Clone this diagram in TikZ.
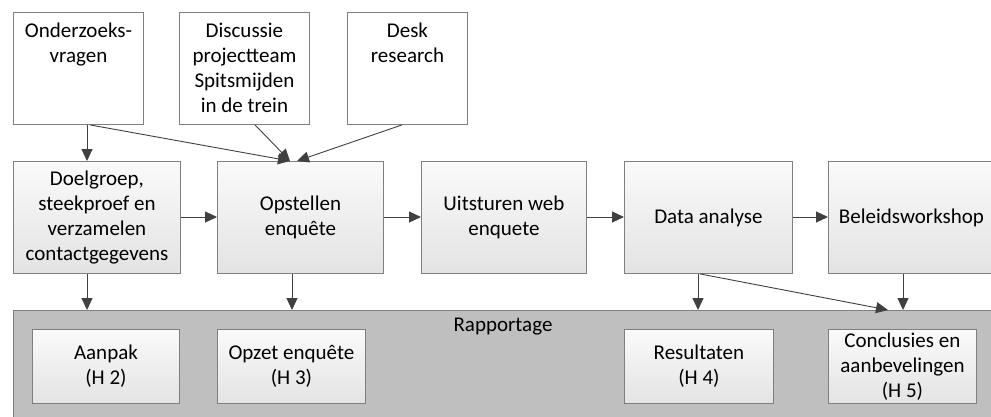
\documentclass[tikz,border=0pt]{standalone}
\usepackage{fontspec}
\setmainfont{Carlito}
\usetikzlibrary{arrows.meta,calc}
\definecolor{bordergray}{HTML}{7F7F7F}
\definecolor{arrowgray}{HTML}{404040}
\definecolor{contgray}{HTML}{BFBFBF}
\tikzset{
  base/.style={draw=bordergray, line width=0.9pt, rectangle, anchor=north west, inner sep=0pt},
  topbox/.style={base, fill=white},
  midbox/.style={base, top color=white!98!black, bottom color=white!89!black, align=center, font=\fontsize{21}{25}\selectfont},
  container/.style={base, fill=contgray},
  lbl/.style={anchor=north, align=center, inner sep=0pt, font=\fontsize{21}{25}\selectfont},
  arr/.style={draw=arrowgray, line width=0.9pt, -{Triangle[length=12pt,width=11pt]}, shorten >=0pt},
}
\begin{document}
\begin{tikzpicture}[x=1pt,y=-1pt]
\useasboundingbox (0,0) rectangle (991,416);
\clip (0,0) rectangle (991,416);
% top row
\node[topbox, minimum width=130pt, minimum height=112pt] (q) at (13,12) {};
\node[lbl] (qt) at ($(q.north)+(0,11)$) {Onderzoeks-\\vragen};
\node[topbox, minimum width=130pt, minimum height=112pt] (d) at (179,12) {};
\node[lbl] (dt) at ($(d.north)+(0,11)$) {Discussie\\projectteam\\Spitsmijden\\in de trein};
\node[topbox, minimum width=120pt, minimum height=112pt] (r) at (347,12) {};
\node[lbl] (rt) at ($(r.north)+(0,11)$) {Desk\\research};
% middle row
\node[midbox, minimum width=167pt, minimum height=112pt] (a) at (13,161) {Doelgroep,\\steekproef en\\verzamelen\\contactgegevens};
\node[midbox, minimum width=166pt, minimum height=112pt] (b) at (217,161) {Opstellen\\enquête};
\node[midbox, minimum width=165pt, minimum height=112pt] (c) at (421,161) {Uitsturen web\\enquete};
\node[midbox, minimum width=168pt, minimum height=112pt] (e) at (624,161) {Data analyse};
\node[midbox, minimum width=166pt, minimum height=112pt] (f) at (828,161) {Beleidsworkshop};
% container
\node[container, minimum width=1000pt, minimum height=130pt] (g) at (13,310) {};
\node[lbl] (gt) at (503,318) {Rapportage};
\node[midbox, minimum width=147pt, minimum height=74pt] (h2) at (32,329) {Aanpak\\(H 2)};
\node[midbox, minimum width=148pt, minimum height=74pt] (h3) at (217,329) {Opzet enquête\\(H 3)};
\node[midbox, minimum width=149pt, minimum height=74pt] (h4) at (624,329) {Resultaten\\(H 4)};
\node[midbox, minimum width=148pt, minimum height=74pt] (h5) at (828,329) {Conclusies en\\aanbevelingen\\(H 5)};
% connectors
\coordinate (tipB) at ($(b.north west)+(73,0)$);
\coordinate (tipB2) at ($(b.north west)+(80,0)$);
\draw[arr] ($(q.south west)+(74,0)$) -- ($(a.north west)+(74,0)$);
\draw[arr] ($(q.south west)+(77,0)$) -- (tipB);
\draw[arr] ($(d.south west)+(76,0)$) -- (tipB);
\draw[arr] ($(r.south west)+(55,0)$) -- (tipB2);
\draw[arr] ($(a.north east)+(0,56)$) -- ($(b.north west)+(0,56)$);
\draw[arr] ($(b.north east)+(0,56)$) -- ($(c.north west)+(0,56)$);
\draw[arr] ($(c.north east)+(0,56)$) -- ($(e.north west)+(0,56)$);
\draw[arr] ($(e.north east)+(0,56)$) -- ($(f.north west)+(0,56)$);
\draw[arr] ($(a.south west)+(74,0)$) -- ($(g.north west)+(74,0)$);
\draw[arr] ($(b.south west)+(75,0)$) -- ($(g.north west)+(279,0)$);
\draw[arr] ($(e.south west)+(74,0)$) -- ($(g.north west)+(685,0)$);
\draw[arr] ($(e.south west)+(76,0)$) -- ($(g.north west)+(875,0)$);
\draw[arr] ($(f.south west)+(75,0)$) -- ($(g.north west)+(890,0)$);
\end{tikzpicture}
\end{document}
